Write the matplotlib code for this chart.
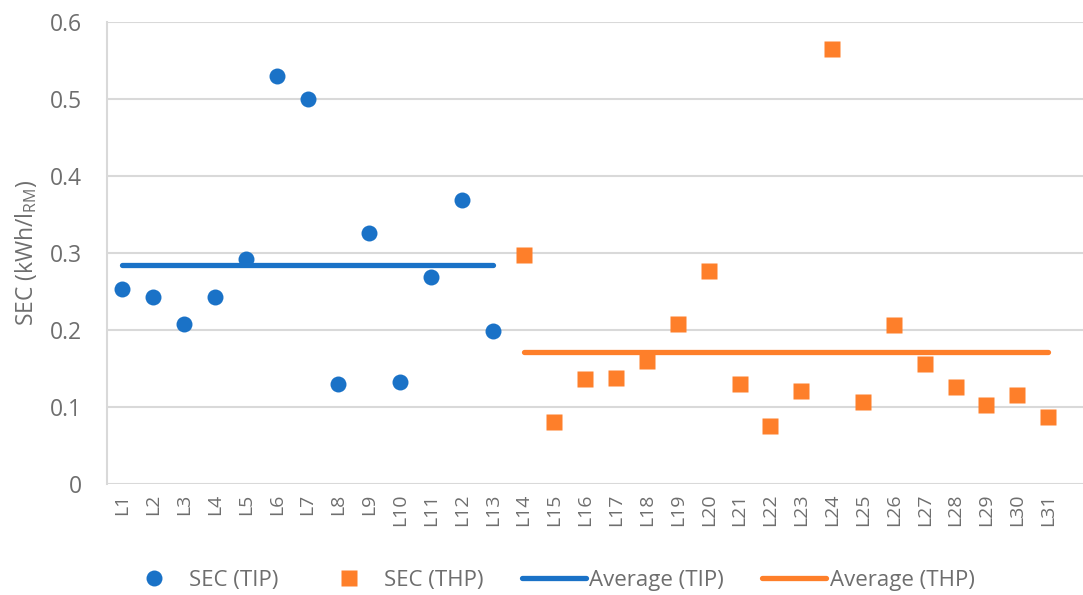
import matplotlib.pyplot as plt

plt.rcParams['font.family'] = ['Open Sans', 'DejaVu Sans']

labels = ['L%d' % i for i in range(1, 32)]
tip_labels = labels[:13]
thp_labels = labels[13:]

sec_tip = [0.253, 0.243, 0.208, 0.243, 0.292, 0.530, 0.500, 0.130, 0.326,
           0.132, 0.269, 0.369, 0.199]
sec_thp = [0.297, 0.080, 0.136, 0.138, 0.160, 0.208, 0.277, 0.130, 0.075,
           0.121, 0.565, 0.106, 0.206, 0.156, 0.126, 0.103, 0.116, 0.087]
avg_tip = 0.284
avg_thp = 0.171

blue = '#1a72c7'
orange = '#fe7f2a'
grey = '#6e6e6e'

fig = plt.figure(figsize=(10.83, 5.95), dpi=100)
ax = fig.add_axes([0.0988, 0.1866, 0.9012, 0.7765])

ax.plot(tip_labels, sec_tip, 'o', color=blue, ms=11.5, mec='none',
        label='SEC (TIP)', zorder=3)
ax.plot(thp_labels, sec_thp, 's', color=orange, ms=11.5, mec='none',
        label='SEC (THP)', zorder=3)
ax.plot([tip_labels[0], tip_labels[-1]], [avg_tip, avg_tip], color=blue,
        lw=3.8, solid_capstyle='round', label='Average (TIP)', zorder=2)
ax.plot([thp_labels[0], thp_labels[-1]], [avg_thp, avg_thp], color=orange,
        lw=3.8, solid_capstyle='round', label='Average (THP)', zorder=2)

ax.set_ylim(0, 0.6)
ax.set_xlim(-0.5, 31.13)
ax.set_yticks([0, 0.1, 0.2, 0.3, 0.4, 0.5, 0.6])
ax.set_yticklabels(['0', '0.1', '0.2', '0.3', '0.4', '0.5', '0.6'])
ax.grid(axis='y', color='#d9d9d9', lw=1.5)
ax.set_axisbelow(True)
for s in ['top', 'right', 'bottom']:
    ax.spines[s].set_visible(False)
ax.spines['left'].set_color('#d9d9d9')
ax.spines['left'].set_linewidth(1.5)

ax.tick_params(axis='y', length=0, pad=18, labelsize=16.5, labelcolor=grey)
ax.tick_params(axis='x', length=0, pad=7, labelsize=14, labelcolor=grey,
               labelrotation=90)

ax.set_ylabel('SEC (kWh/l$_{\\mathregular{RM}}$)', fontsize=16.5, color=grey)
ax.yaxis.set_label_coords(-0.07, 0.5)

fig.legend(loc='center', bbox_to_anchor=(0.506, 0.025), ncol=4, frameon=False,
           fontsize=16, labelcolor=grey, handlelength=2.9, handletextpad=0.15,
           columnspacing=1.7)

fig.savefig('out.png', dpi=100)
